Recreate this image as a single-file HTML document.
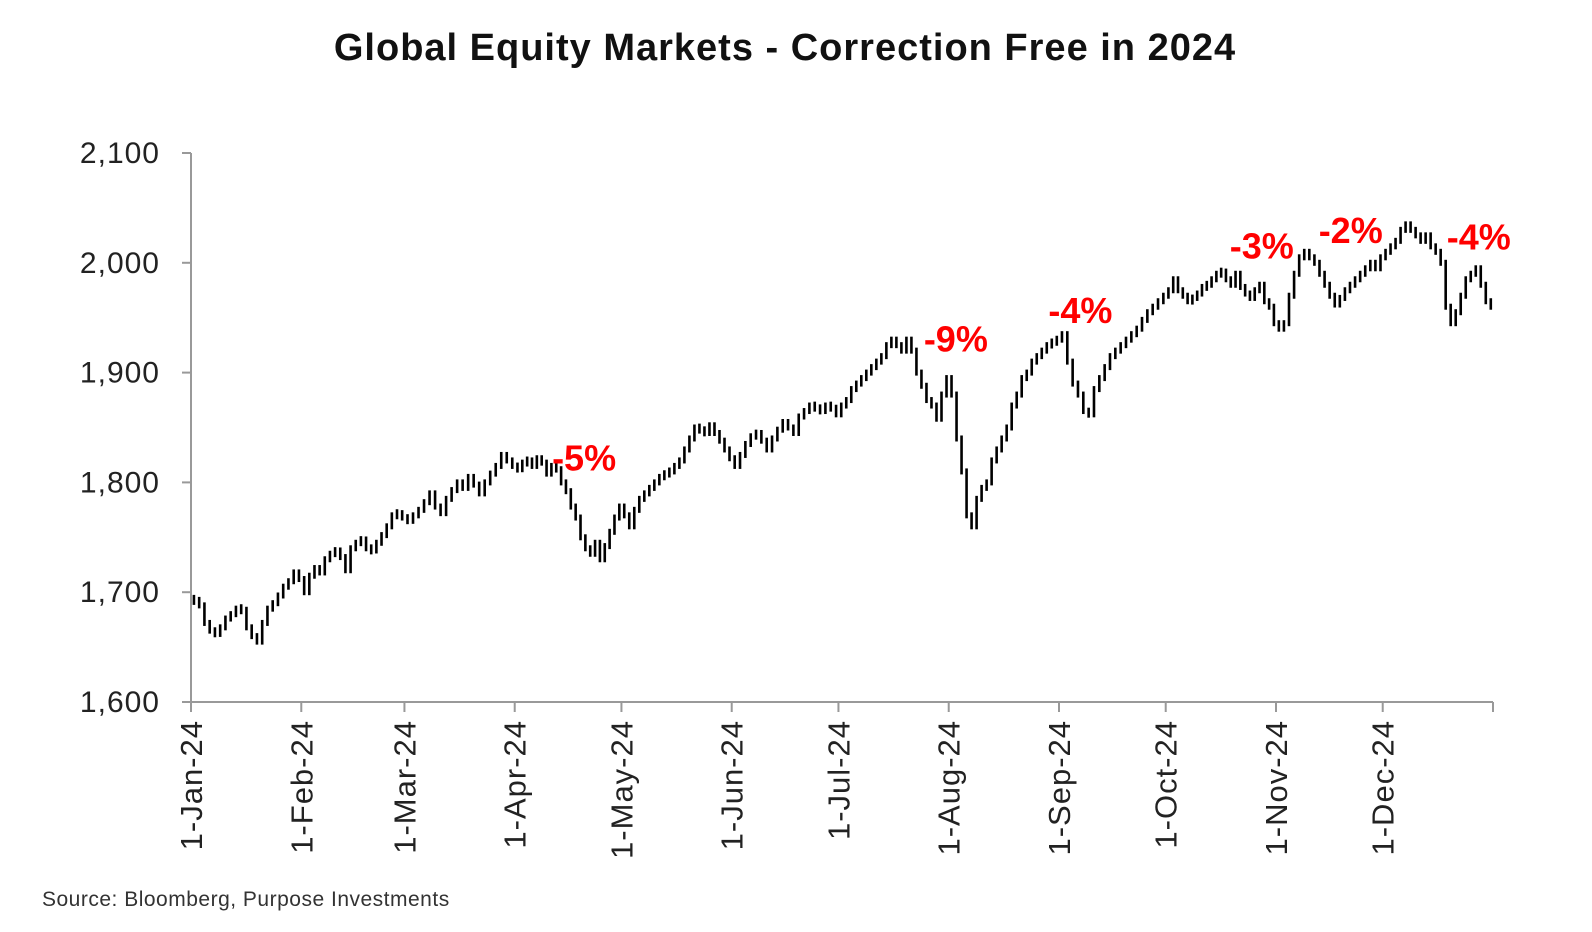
<!DOCTYPE html>
<html><head><meta charset="utf-8"><style>
body{margin:0;background:#fff;width:1592px;height:927px;overflow:hidden;font-family:"Liberation Sans",sans-serif}
</style></head><body>
<svg id="c" width="1592" height="927" xmlns="http://www.w3.org/2000/svg">
<text x="785" y="60" text-anchor="middle" font-size="38" font-weight="bold" letter-spacing="1" fill="#111">Global Equity Markets - Correction Free in 2024</text>
<g id="axes"></g>
<g id="bars"></g>
<g id="ann"></g>
<text x="42" y="906" font-size="21" letter-spacing="0.5" fill="#333">Source: Bloomberg, Purpose Investments</text>
</svg>
<script>
const yTicks=[1600,1700,1800,1900,2000,2100];
const monthLabels=["1-Jan-24","1-Feb-24","1-Mar-24","1-Apr-24","1-May-24","1-Jun-24","1-Jul-24","1-Aug-24","1-Sep-24","1-Oct-24","1-Nov-24","1-Dec-24"];
const monthDays=[31,29,31,30,31,30,31,31,30,31,30,31];
const janC=[1693,1688,1672,1665,1662,1668,1676,1680,1685,1684,1668,1660,1655,1672,1685,1690,1697,1705,1710,1718,1712];
const febC=[1700,1715,1722,1718,1730,1735,1738,1732,1720,1740,1745,1748,1740,1738,1745,1752,1760,1770,1772,1768];
const marC=[1765,1770,1775,1782,1790,1778,1772,1785,1793,1800,1795,1805,1798,1790,1800,1808,1815,1825,1820,1815];
const aprC=[1812,1818,1820,1815,1822,1818,1808,1815,1812,1800,1792,1778,1768,1750,1740,1735,1745,1730,1742,1755,1768,1778];
const mayC=[1770,1760,1775,1785,1790,1795,1800,1805,1808,1810,1815,1820,1830,1840,1850,1848,1845,1852,1845,1838,1830,1822];
const junC=[1815,1825,1835,1842,1845,1838,1830,1840,1848,1855,1850,1845,1860,1865,1870,1868,1865,1870,1868,1862];
const julC=[1870,1875,1885,1890,1895,1900,1905,1910,1915,1925,1930,1925,1920,1930,1920,1900,1888,1875,1870,1858,1880,1895];
const augC=[1880,1840,1810,1770,1760,1785,1795,1800,1820,1830,1840,1850,1870,1880,1895,1900,1910,1915,1920,1925,1928,1930];
const sepC=[1935,1910,1890,1880,1865,1862,1885,1895,1905,1915,1920,1925,1930,1935,1940,1948,1955,1960,1965,1970];
const octC=[1975,1985,1975,1970,1965,1968,1972,1978,1980,1985,1990,1992,1985,1980,1990,1978,1972,1968,1975,1980,1965,1960,1945];
const novC=[1940,1945,1970,1990,2005,2010,2005,2000,1990,1980,1970,1962,1968,1975,1980,1985,1990,1995,2000,1995,2005];
const decC=[2010,2015,2020,2030,2035,2030,2025,2020,2025,2015,2010,2000,1960,1945,1955,1970,1985,1990,1995,1980,1965,1960];
const closes=[janC,febC,marC,aprC,mayC,junC,julC,augC,sepC,octC,novC,decC];
const annText=["-5%","-9%","-4%","-3%","-2%","-4%"];
const annDay=[110.5,215,250,301,326,362];
const annVal=[1811,1919,1945,2004,2018,2012];

const NS="http://www.w3.org/2000/svg";
const X0=191,X1=1493,Y0=702,Y1=153;
const xd=d=>X0+(X1-X0)*d/366;
const yv=v=>Y0-(v-1600)/500*(Y0-Y1);
function mk(t,a,p){const e=document.createElementNS(NS,t);for(const k in a)e.setAttribute(k,a[k]);p.appendChild(e);return e;}
const ax=document.getElementById('axes');
const g1=mk('line',{x1:X0,y1:Y1,x2:X0,y2:Y0,stroke:'#999','stroke-width':2},ax);

const g2=mk('line',{x1:X0,y1:Y0,x2:X1,y2:Y0,stroke:'#999','stroke-width':2},ax);

yTicks.forEach(v=>{
 const tk=mk('line',{x1:X0-9,y1:yv(v),x2:X0,y2:yv(v),stroke:'#999','stroke-width':2},ax);
 
 const t=mk('text',{x:160,y:yv(v)+10,'text-anchor':'end','font-size':30,'letter-spacing':1,fill:'#222'},ax);
 
 t.textContent=v.toLocaleString('en-US');
});
let ds=0;const mStart=[];monthDays.forEach(d=>{mStart.push(ds);ds+=d;});
mStart.concat([366]).forEach(d=>{
 const tk=mk('line',{x1:xd(d),y1:Y0,x2:xd(d),y2:Y0+10,stroke:'#999','stroke-width':2},ax);
 
});
monthLabels.forEach((l,i)=>{
 const x=xd(mStart[i])+11,y=720;
 const t=mk('text',{x:x,y:y,'text-anchor':'end','font-size':31,'letter-spacing':1,fill:'#222',transform:`rotate(-90 ${x} ${y})`},ax);
 
 t.textContent=l;
});
const bg=document.getElementById('bars');
let prev=null;
closes.forEach((arr,m)=>{
 arr.forEach((v,i)=>{
  const d=mStart[m]+(i+0.5)/arr.length*monthDays[m];
  const p=prev===null?v:prev;
  let a=yv(Math.max(p,v)),b=yv(Math.min(p,v));
  if(b-a<4){const c=(a+b)/2;a=c-2;b=c+2;}
  const r=mk('rect',{x:xd(d)-1,y:a-3,width:2.6,height:b-a+6,fill:'#000'},bg);
  
  prev=v;
 });
});
const ag=document.getElementById('ann');
annText.forEach((s,i)=>{
 const t=mk('text',{x:xd(annDay[i]),y:yv(annVal[i]),'font-size':36,'font-weight':'bold',fill:'#f00','text-anchor':'middle'},ag);
 
 t.textContent=s;
});
</script>
</body></html>
